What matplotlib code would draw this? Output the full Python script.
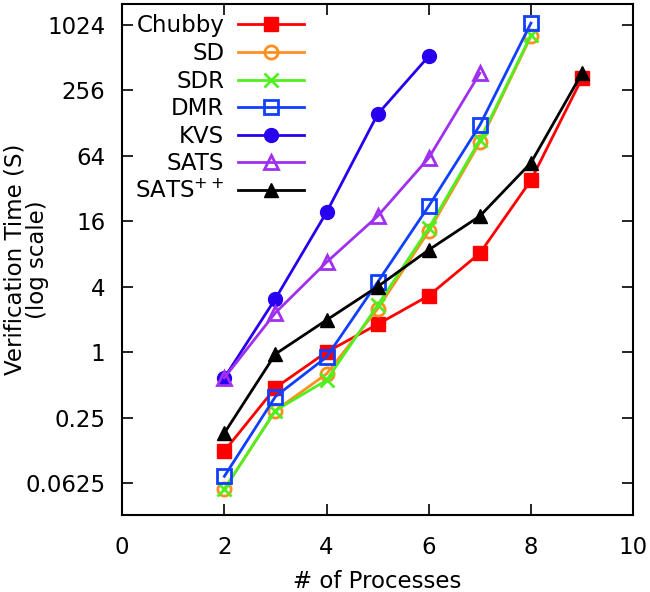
import numpy as np
import matplotlib
matplotlib.use("Agg")
import matplotlib.pyplot as plt
from matplotlib.ticker import FixedLocator, FixedFormatter, NullLocator

# verification time (s) per number of processes
procs = [2, 3, 4, 5, 6, 7, 8, 9]
chubby = [0.123, 0.47, 1.0, 1.8, 3.3, 8.1, 38, 330]
sd = [0.055, 0.29, 0.63, 2.5, 12.9, 85, 800]
sdr = [0.055, 0.29, 0.55, 2.7, 13.8, 89, 820]
dmr = [0.072, 0.39, 0.9, 4.4, 22, 122, 1060]
kvs = [0.58, 3.1, 19.3, 154, 526]
sats = [0.58, 2.3, 6.7, 17.8, 61, 367]
sats_pp = [0.18, 0.96, 1.97, 4.0, 8.7, 17.8, 55, 367]

yticks = [0.0625, 0.25, 1, 4, 16, 64, 256, 1024]
ytick_labels = ["0.0625", "0.25", "1", "4", "16", "64", "256", "1024"]
xticks = [0, 2, 4, 6, 8, 10]

plt.rcParams['font.family'] = "DejaVu Sans"
plt.rcParams['font.size'] = 16.5

fig = plt.figure(figsize=(6.5, 5.92), dpi=100)
ax = fig.add_axes([0.188, 0.130, 0.786, 0.863])

series = [
	("Chubby", chubby, "#ff0000", "s", True),
	("SD", sd, "#ff9020", "o", False),
	("SDR", sdr, "#50f020", "x", False),
	("DMR", dmr, "#1040ff", "s", False),
	("KVS", kvs, "#2800f0", "o", True),
	("SATS", sats, "#a030f0", "^", False),
	("SATS$^{++}$", sats_pp, "#000000", "^", True),
]

for name, vals, col, mk, filled in series:
	xs = procs[:len(vals)]
	if filled:
		ax.plot(xs, vals, color=col, lw=2, marker=mk, ms=10, mfc=col, mec=col, label=name)
	elif mk == "x":
		ax.plot(xs, vals, color=col, lw=2, marker=mk, ms=10, mew=2, label=name)
	else:
		ax.plot(xs, vals, color=col, lw=2, marker=mk, ms=9.5, mfc="none", mec=col, mew=2, label=name)

ax.set_yscale("log", base=2)
ax.set_ylim(2 ** -4.98, 2 ** 10.63)
ax.set_xlim(0, 10)
ax.yaxis.set_major_locator(FixedLocator(yticks))
ax.yaxis.set_major_formatter(FixedFormatter(ytick_labels))
ax.yaxis.set_minor_locator(NullLocator())
ax.set_xticks(xticks)

ax.tick_params(direction="in", length=8, width=1.2, top=True, right=True)
ax.tick_params(axis="x", pad=15)
ax.tick_params(axis="y", pad=12)
for sp in ax.spines.values():
	sp.set_linewidth(1.5)

ax.set_xlabel("# of Processes", labelpad=8)
ax.set_ylabel("Verification Time (S)\n(log scale)", linespacing=1.0)
ax.yaxis.set_label_coords(-0.143, 0.5)

leg = ax.legend(loc="upper left", markerfirst=False, frameon=False, handlelength=2.9,
	handletextpad=0.6, labelspacing=0.2, borderpad=0, borderaxespad=0,
	bbox_to_anchor=(0.025, 0.98))

fig.savefig("out.png", dpi=100)
